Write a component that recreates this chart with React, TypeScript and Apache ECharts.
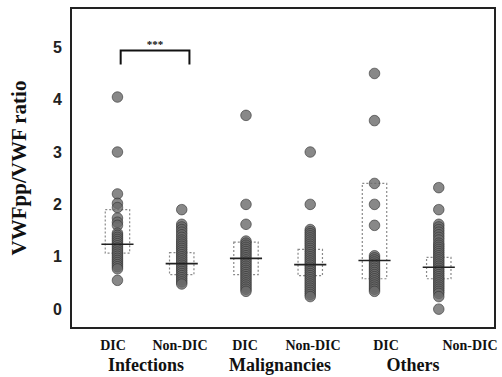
import React, { useEffect, useRef } from "react";
import * as echarts from "echarts";

const groups = ["Infections", "Malignancies", "Others"];
const subLabels = ["DIC", "Non-DIC", "DIC", "Non-DIC", "DIC", "Non-DIC"];
const yTicks = [0, 1, 2, 3, 4, 5];

const infDIC = [4.05, 3.0, 2.2, 2.02, 1.94, 1.74, 1.66, 1.6, 1.45, 1.41, 1.37, 1.33, 1.29, 1.25, 1.21, 1.17, 1.13, 1.09, 1.05, 1.01, 0.97, 0.93, 0.89, 0.85, 0.81, 0.77, 0.55];
const infNon = [1.9, 1.62, 1.57, 1.52, 1.47, 1.42, 1.37, 1.32, 1.28, 1.24, 1.2, 1.16, 1.12, 1.08, 1.04, 1.0, 0.96, 0.92, 0.88, 0.84, 0.8, 0.76, 0.72, 0.68, 0.64, 0.6, 0.56, 0.52, 0.48];
const malDIC = [3.7, 2.0, 1.62, 1.3, 1.26, 1.22, 1.18, 1.14, 1.1, 1.06, 1.02, 0.98, 0.94, 0.9, 0.86, 0.82, 0.78, 0.74, 0.7, 0.66, 0.62, 0.58, 0.54, 0.5, 0.46, 0.42, 0.38, 0.34];
const malNon = [3.0, 2.0, 1.52, 1.48, 1.44, 1.4, 1.36, 1.32, 1.28, 1.24, 1.2, 1.16, 1.12, 1.08, 1.04, 1.0, 0.96, 0.92, 0.88, 0.84, 0.8, 0.76, 0.72, 0.68, 0.64, 0.6, 0.56, 0.52, 0.48, 0.44, 0.4, 0.36, 0.32, 0.28, 0.24];
const othDIC = [4.5, 3.6, 2.4, 2.0, 1.6, 1.02, 0.98, 0.94, 0.9, 0.86, 0.82, 0.78, 0.74, 0.7, 0.66, 0.62, 0.58, 0.54, 0.5, 0.46, 0.42, 0.38, 0.34];
const othNon = [2.32, 1.9, 1.62, 1.57, 1.52, 1.47, 1.42, 1.37, 1.32, 1.26, 1.22, 1.18, 1.14, 1.1, 1.06, 1.02, 0.98, 0.94, 0.9, 0.86, 0.82, 0.78, 0.74, 0.7, 0.66, 0.62, 0.58, 0.54, 0.5, 0.46, 0.42, 0.38, 0.34, 0.3, 0.24, 0.0];

const columns = [infDIC, infNon, malDIC, malNon, othDIC, othNon];

// interquartile boxes and medians per column
const boxQ1 = [1.07, 0.66, 0.66, 0.64, 0.58, 0.58];
const boxQ3 = [1.9, 1.08, 1.28, 1.14, 2.4, 0.99];
const medians = [1.24, 0.87, 0.97, 0.85, 0.93, 0.8];

const sigText = "***";

export default function App() {
  const ref = useRef<HTMLDivElement>(null);

  useEffect(() => {
    if (!ref.current) return;
    const chart = echarts.init(ref.current, null, { renderer: "svg" });

    const scatterData: number[][] = [];
    columns.forEach((col, i) => col.forEach((v) => scatterData.push([i + 1, v])));

    const boxData = boxQ1.map((q1, i) => [i + 1, q1, boxQ3[i], medians[i]]);

    const serif = "'Liberation Serif', 'DejaVu Serif', serif";

    const subLabelX = [113, 180, 245, 313, 386, 470];
    const groupX = [146, 280, 413];

    const graphics: any[] = [];
    subLabels.forEach((t, i) =>
      graphics.push({
        type: "text",
        x: subLabelX[i],
        y: 345,
        style: {
          text: t,
          font: `bold 14px ${serif}`,
          fill: "#111",
          align: "center",
          verticalAlign: "middle",
        },
      })
    );
    groups.forEach((t, i) =>
      graphics.push({
        type: "text",
        x: groupX[i],
        y: 365,
        style: {
          text: t,
          font: `bold 18px ${serif}`,
          fill: "#111",
          align: "center",
          verticalAlign: "middle",
        },
      })
    );

    chart.setOption({
      animation: false,
      backgroundColor: "#fff",
      grid: {
        left: 66,
        right: 7,
        top: 8,
        bottom: 49,
        show: true,
        borderColor: "#222",
        borderWidth: 2,
        backgroundColor: "transparent",
      },
      xAxis: {
        type: "value",
        min: 0.277,
        max: 6.875,
        show: false,
      },
      yAxis: {
        type: "value",
        min: -0.36,
        max: 5.75,
        splitLine: { show: false },
        axisLine: { show: false },
        axisTick: { show: false },
        axisLabel: {
          showMinLabel: false,
          showMaxLabel: false,
          margin: 9,
          fontFamily: "'Liberation Sans', Arial, sans-serif",
          fontWeight: "bold",
          fontSize: 16,
          color: "#222",
          formatter: (v: number) => (yTicks.includes(v) ? String(v) : ""),
        },
        name: "VWFpp/VWF ratio",
        nameLocation: "middle",
        nameGap: 42,
        nameRotate: 90,
        nameTextStyle: {
          fontFamily: serif,
          fontWeight: "bold",
          fontSize: 21,
          color: "#111",
        },
      },
      series: [
        {
          type: "custom",
          z: 1,
          silent: true,
          data: boxData,
          renderItem: (params: any, api: any) => {
            const x = api.value(0);
            const q1 = api.value(1);
            const q3 = api.value(2);
            const tl = api.coord([x - 0.19, q3]);
            const br = api.coord([x + 0.19, q1]);
            return {
              type: "rect",
              shape: { x: tl[0], y: tl[1], width: br[0] - tl[0], height: br[1] - tl[1] },
              style: { fill: "none", stroke: "#8a8a8a", lineWidth: 1.2, lineDash: [2, 2] },
            };
          },
        },
        {
          type: "scatter",
          z: 2,
          data: scatterData,
          symbolSize: 10.5,
          itemStyle: { color: "#6a6a6a", borderColor: "#333", borderWidth: 0.8 },
        },
        {
          type: "custom",
          z: 3,
          silent: true,
          data: boxData,
          renderItem: (params: any, api: any) => {
            const x = api.value(0);
            const m = api.value(3);
            const a = api.coord([x - 0.25, m]);
            const b = api.coord([x + 0.25, m]);
            return {
              type: "line",
              shape: { x1: a[0], y1: a[1], x2: b[0], y2: b[1] },
              style: { stroke: "#222", lineWidth: 1.6 },
            };
          },
        },
        {
          type: "custom",
          z: 4,
          silent: true,
          data: [[1.05, 2.12, 4.94, 4.67]],
          renderItem: (params: any, api: any) => {
            const x1 = api.value(0);
            const x2 = api.value(1);
            const yt = api.value(2);
            const yb = api.value(3);
            const p1 = api.coord([x1, yb]);
            const p2 = api.coord([x1, yt]);
            const p3 = api.coord([x2, yt]);
            const p4 = api.coord([x2, yb]);
            return {
              type: "group",
              children: [
                {
                  type: "polyline",
                  shape: { points: [p1, p2, p3, p4] },
                  style: { stroke: "#111", lineWidth: 2, fill: "none" },
                },
                {
                  type: "text",
                  x: (p2[0] + p3[0]) / 2,
                  y: p2[1] - 6,
                  style: {
                    text: sigText,
                    font: `bold 11px ${serif}`,
                    fill: "#111",
                    align: "center",
                    verticalAlign: "middle",
                  },
                },
              ],
            };
          },
        },
      ],
      graphic: graphics,
    });

    return () => chart.dispose();
  }, []);

  return (
    <div
      ref={ref}
      style={{ position: "fixed", left: 0, top: 0, width: 502, height: 377 }}
    />
  );
}
